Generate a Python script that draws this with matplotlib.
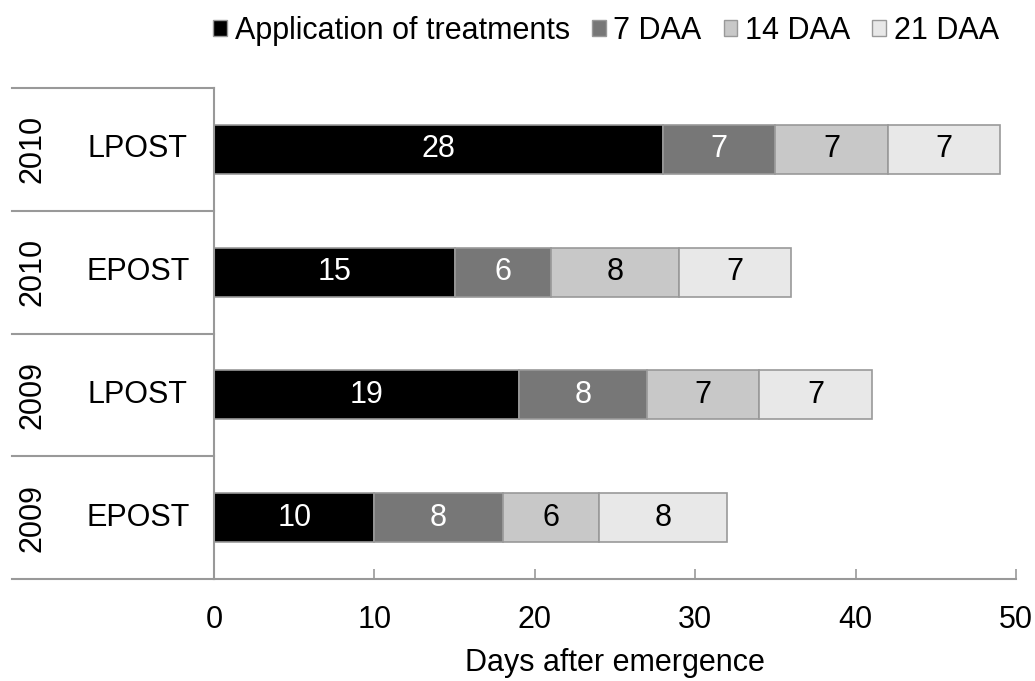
import matplotlib
matplotlib.use("Agg")
import numpy as np
import matplotlib.pyplot as plt
from matplotlib.patches import Patch
from matplotlib.lines import Line2D

plt.rcParams['font.family'] = ['Liberation Sans', 'DejaVu Sans']

# data (bottom to top)
years = ['2009', '2009', '2010', '2010']
timing = ['EPOST', 'LPOST', 'EPOST', 'LPOST']
app = [10, 19, 15, 28]
daa7 = [8, 8, 6, 7]
daa14 = [6, 7, 8, 7]
daa21 = [8, 7, 7, 7]

series = [app, daa7, daa14, daa21]
names = ['Application of treatments', '7 DAA', '14 DAA', '21 DAA']
colors = ['#000000', '#777777', '#c8c8c8', '#e8e8e8']
txtcol = ['white', 'white', 'black', 'black']

fs = 22
fig = plt.figure(figsize=(10.35, 6.81), dpi=100)
ax = fig.add_axes([214 / 1035, 1 - 579 / 681, 802 / 1035, 491 / 681])

y = np.arange(len(app))
left = np.zeros(len(app))
for s, c, tc in zip(series, colors, txtcol):
    vals = np.array(s, dtype=float)
    ax.barh(y, vals, left=left, height=0.4, color=c, edgecolor='#999999', linewidth=1.2)
    for yi, l, v in zip(y, left, vals):
        ax.text(l + v / 2, yi, str(int(v)), ha='center', va='center', color=tc, fontsize=fs)
    left = left + vals

ax.set_xlim(0, 50)
ax.set_ylim(-0.5, 3.5)
ax.set_xticks([0, 10, 20, 30, 40, 50])
ax.set_yticks([])
ax.tick_params(axis='x', direction='in', length=7, width=1.2, color='#999999',
               labelsize=fs, pad=19)
ax.set_xlabel('Days after emergence', fontsize=fs, labelpad=9)

for sp in ['top', 'right']:
    ax.spines[sp].set_visible(False)
for sp in ['left', 'bottom']:
    ax.spines[sp].set_color('#999999')
    ax.spines[sp].set_linewidth(1.5)

# two-level category axis
tr = ax.get_yaxis_transform()
x0 = (12 - 214) / 802
for b in np.arange(-0.5, 4, 1.0):
    ax.add_line(Line2D([x0, 0], [b, b], transform=tr, color='#999999', lw=1.5, clip_on=False))
for yi, yr, t in zip(y, years, timing):
    ax.text((33 - 214) / 802, yi, yr, transform=tr, rotation=90, ha='center', va='center', fontsize=fs)
    ax.text((138 - 214) / 802, yi, t, transform=tr, ha='center', va='center', fontsize=fs)

handles = [Patch(facecolor=c, edgecolor='#999999', linewidth=1) for c in colors]
fig.legend(handles, names, loc='center', bbox_to_anchor=(606 / 1035, 1 - 31 / 681), ncol=4,
           frameon=False, fontsize=fs, handlelength=0.45, handleheight=0.45,
           handletextpad=0.25, columnspacing=0.72, borderpad=0)

fig.savefig('out.png', dpi=100)
